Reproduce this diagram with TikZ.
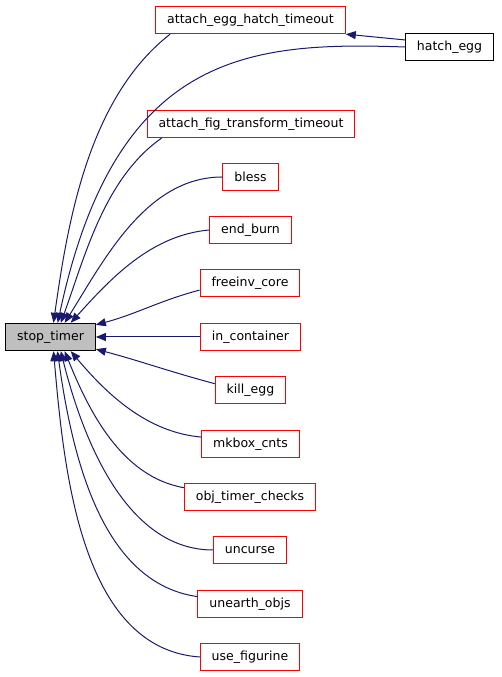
\documentclass[tikz,border=0pt]{standalone}
\usepackage{fontspec}
\setmainfont{DejaVu Sans}
\usepackage{xcolor}
\usetikzlibrary{positioning, arrows.meta}
\definecolor{edgeblue}{HTML}{191970}
\definecolor{nodegray}{HTML}{BFBFBF}

\begin{document}
\begin{tikzpicture}[
  x=0.75pt, y=0.75pt,
  fn/.style={draw=red, fill=white, line width=0.75pt, inner xsep=8.6pt,
             minimum height=20.5pt, font=\fontsize{9.4}{11}\selectfont},
  cur/.style={fn, draw=black, fill=nodegray},
  rootfn/.style={fn, draw=black},
  arr/.style={draw=edgeblue, line width=0.75pt,
              -{Triangle[length=7.5pt, width=6pt]}},
]
\useasboundingbox (0,0) rectangle (501,677);

\node[cur] (stop) at (50.5,340) {stop\_timer};

\node[fn]     (aeht)     at (250.5,657) {attach\_egg\_hatch\_timeout};
\node[rootfn] (hatch)    at (449.5,630) {hatch\_egg};
\node[fn]     (aft)      at (251,553)   {attach\_fig\_transform\_timeout};
\node[fn]     (bless)    at (250.5,500) {bless};
\node[fn]     (endburn)  at (250.5,447) {end\_burn};
\node[fn]     (freeinv)  at (250,394)   {freeinv\_core};
\node[fn]     (incont)   at (250.5,340) {in\_container};
\node[fn]     (killegg)  at (250.5,287) {kill\_egg};
\node[fn]     (mkbox)    at (250.5,233) {mkbox\_cnts};
\node[fn]     (objtimer) at (250,180)   {obj\_timer\_checks};
\node[fn]     (uncurse)  at (250,127)   {uncurse};
\node[fn]     (unearth)  at (250,73)    {unearth\_objs};
\node[fn]     (usefig)   at (250,20)    {use\_figurine};

% callers above
\draw[arr] (hatch.171) -- (aeht.south east);
\draw[arr] (aeht.190) to[out=218, in=82, looseness=0.85] (stop.78);
\draw[arr] (hatch.west) to[out=178, in=78, out looseness=0.9, in looseness=1.6] (stop.63);
\draw[arr] (aft.189) to[out=215, in=70, looseness=0.85] (stop.54);
\draw[arr] (bless.west) to[out=180, in=58, looseness=0.9] (stop.45);
\draw[arr] (endburn.west) to[out=185, in=48, looseness=0.9] (stop.35);
\draw[arr] (freeinv.188) to[out=195, in=15] (stop.15);
\draw[arr] (incont.west) -- (stop.east);
% callers below
\draw[arr] (killegg.170) to[out=165, in=-15] (stop.-15);
\draw[arr] (mkbox.172) to[out=175, in=-50, looseness=0.9] (stop.-35);
\draw[arr] (objtimer.172) to[out=170, in=-68, looseness=0.9] (stop.-45);
\draw[arr] (uncurse.west) to[out=180, in=-76, looseness=0.9] (stop.-54);
\draw[arr] (unearth.172) to[out=172, in=-82, looseness=0.9] (stop.-64);
\draw[arr] (usefig.west) to[out=176, in=-85, looseness=0.9] (stop.-78);
\end{tikzpicture}
\end{document}
